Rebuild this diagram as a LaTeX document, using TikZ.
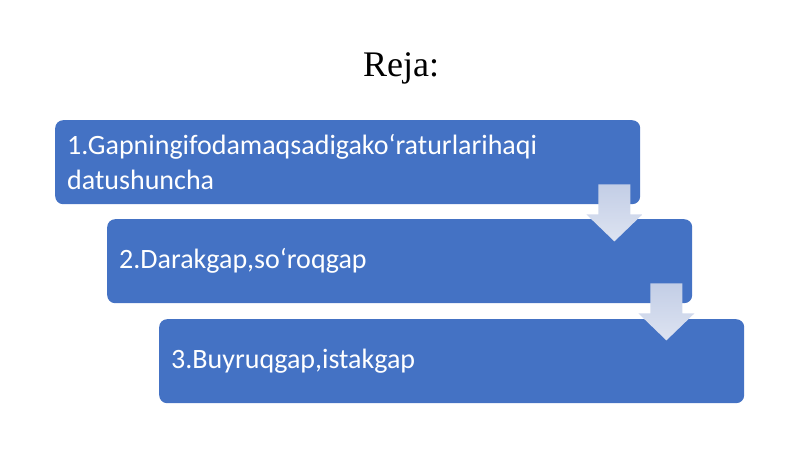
\documentclass[tikz,border=0pt]{standalone}
\usepackage{fontspec}
\setmainfont{Carlito}
\newfontfamily\titlefont{Liberation Serif}
\usetikzlibrary{calc}

\definecolor{boxblue}{HTML}{4472C4}
\definecolor{arrtop}{HTML}{C3CEE6}
\definecolor{arrbot}{HTML}{DDE3F1}

\begin{document}
\begin{tikzpicture}[x=1pt,y=-1pt,
    box/.style={rectangle,rounded corners=8pt,fill=boxblue,text=white,anchor=north west,
      minimum width=585pt,minimum height=84pt,text width=561pt,inner xsep=12pt,align=left,
      font=\fontsize{28}{35}\selectfont}]

  \useasboundingbox (0,0) rectangle (800,449);

  \node[font=\titlefont\fontsize{36}{40}\selectfont,anchor=base] (title) at (401,77) {Reja:};

  \node[box] (b1) at (55,120) {1.Gapningifodamaqsadigako‘raturlarihaqi\\datushuncha};
  \node[box] (b2) at (107,219) {2.Darakgap,so‘roqgap};
  \node[box] (b3) at (159,319) {3.Buyruqgap,istakgap};

  % down arrows between the boxes
  \foreach \b in {b1,b2}
    \shade[top color=arrtop,bottom color=arrbot]
      ($(\b.south east)+(-42,-20)$) -- ++(32,0) -- ++(0,30) -- ++(12,0)
      -- ++(-28,27) -- ++(-28,-27) -- ++(12,0) -- cycle;

\end{tikzpicture}
\end{document}
